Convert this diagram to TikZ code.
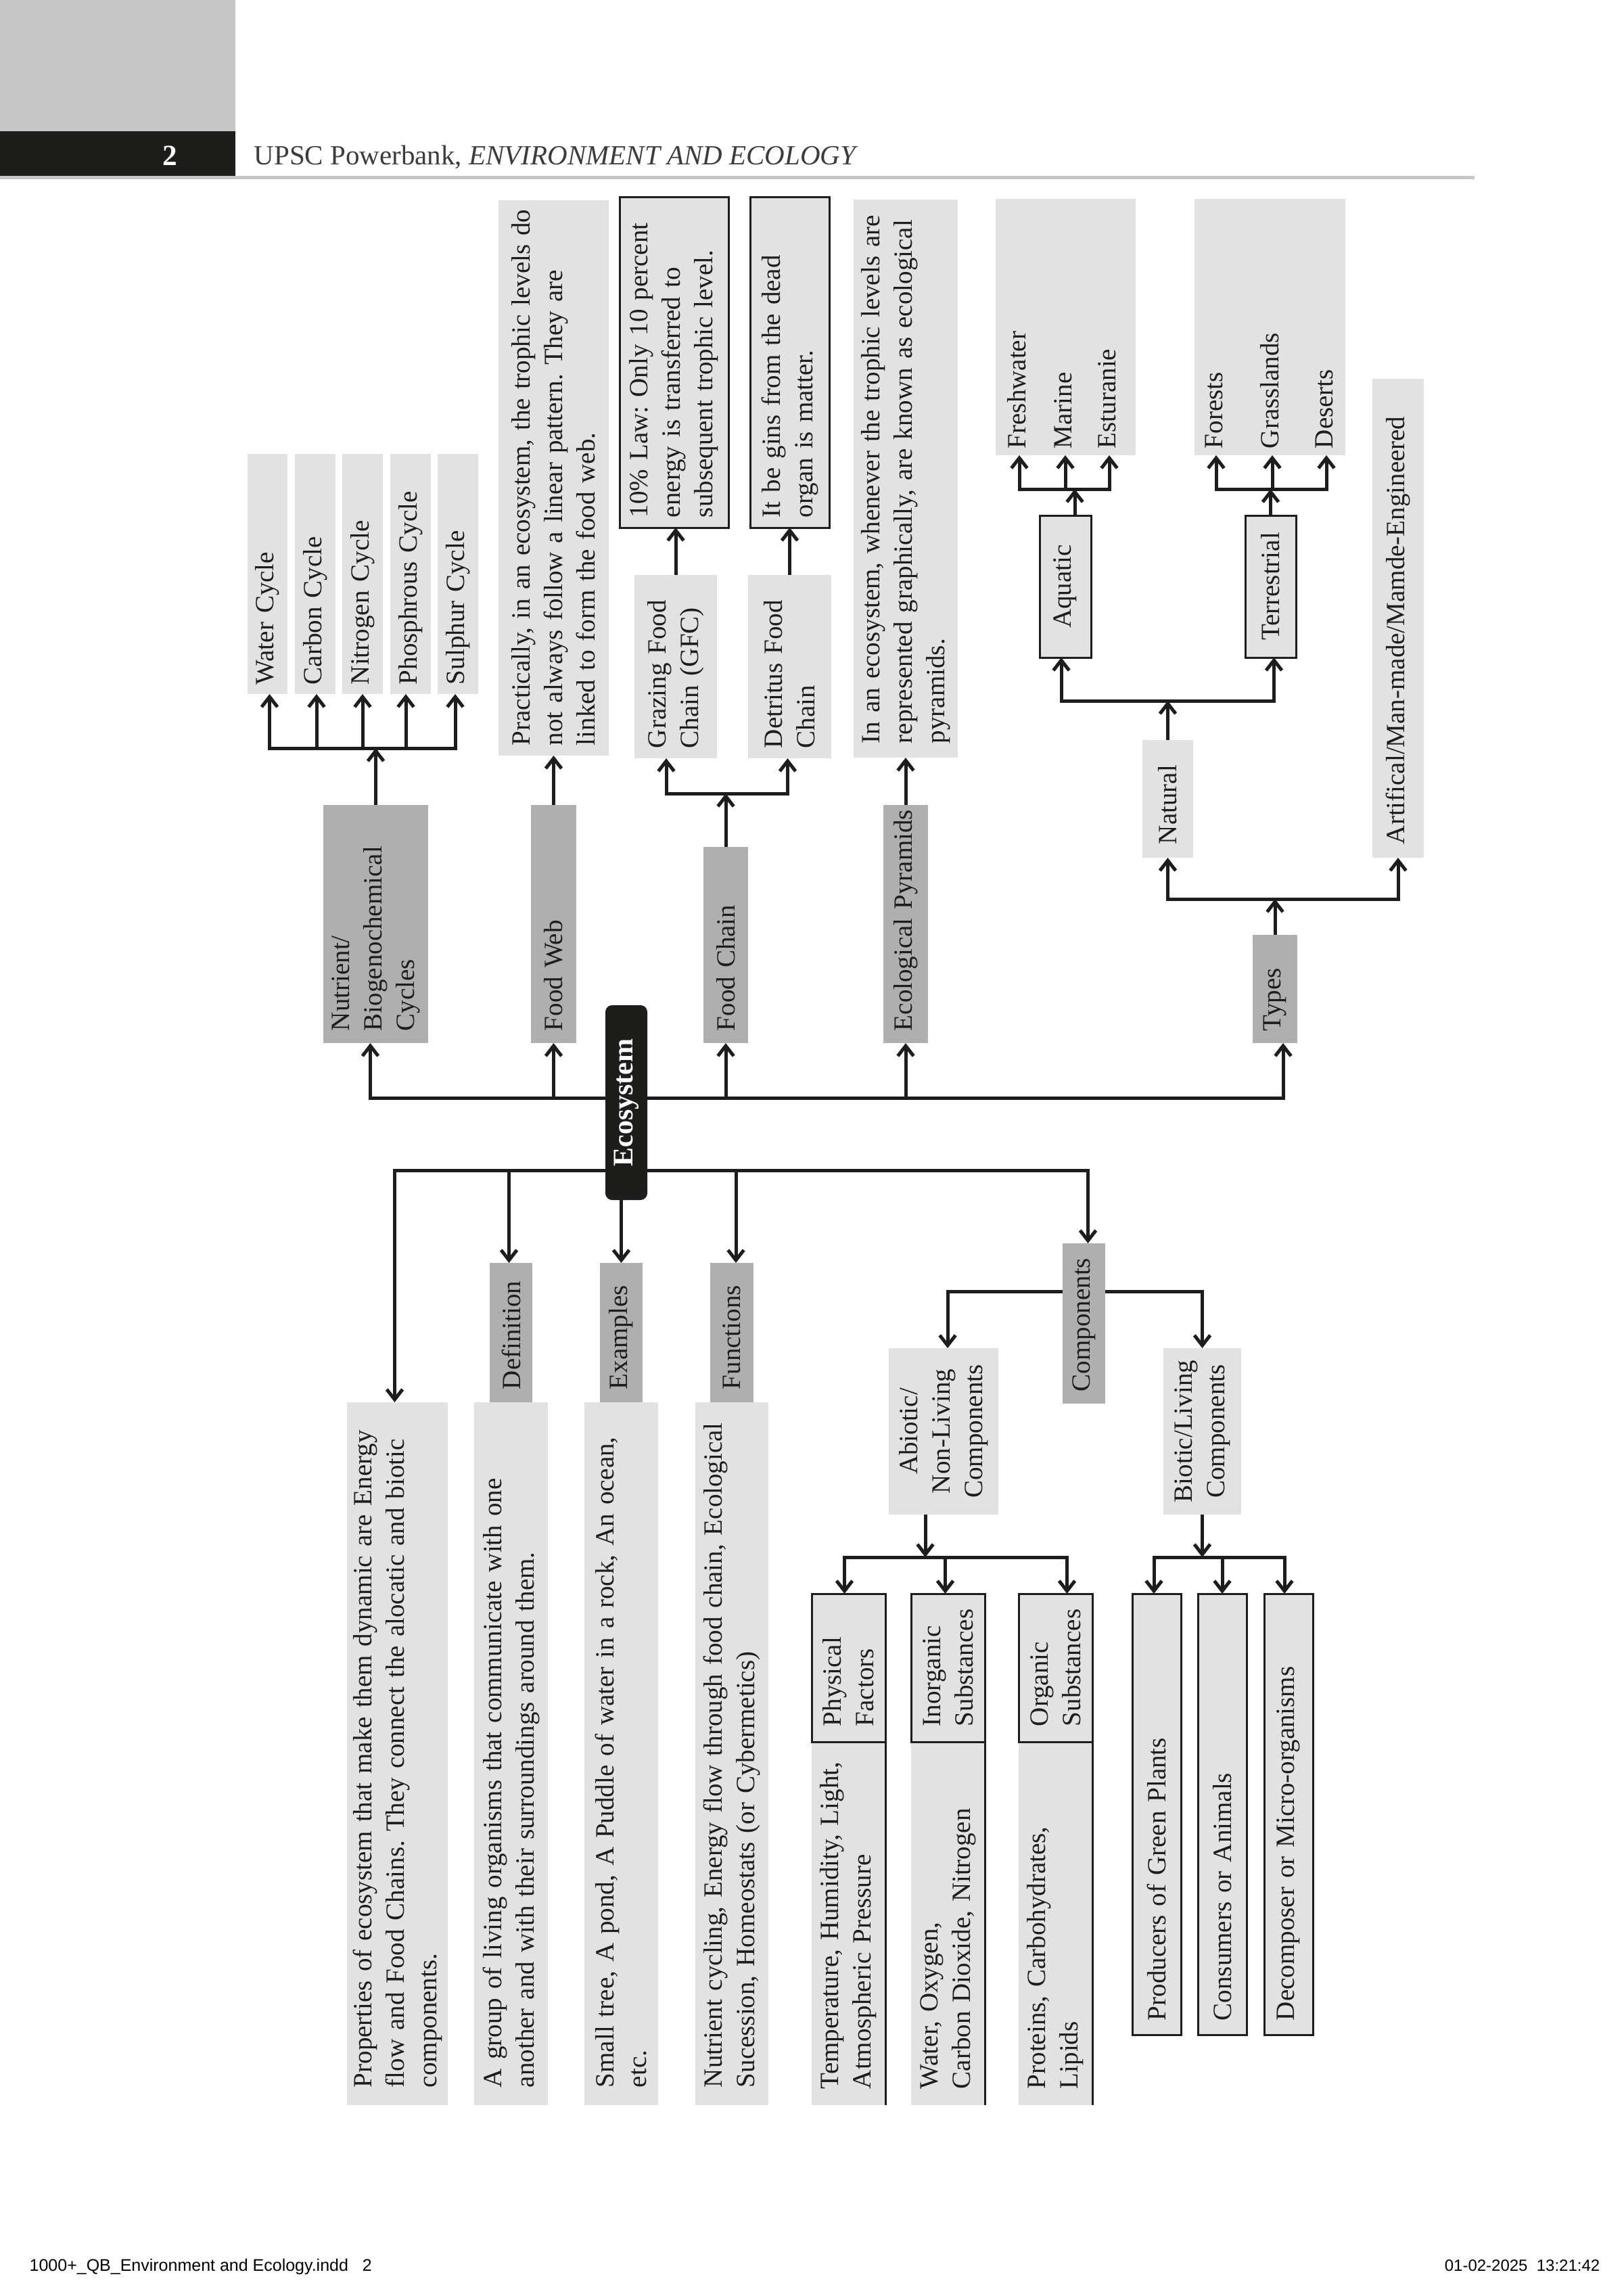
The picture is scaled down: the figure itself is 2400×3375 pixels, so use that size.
\documentclass[tikz,border=0pt]{standalone}
\usepackage{fontspec}
\setmainfont{Liberation Serif}
\newfontfamily\footerfont{Liberation Sans}
\usetikzlibrary{arrows.meta}
\definecolor{inkblack}{HTML}{1D1D1B}
\definecolor{lightgray}{HTML}{E2E2E2}
\definecolor{midgray}{HTML}{AFAFAF}
\definecolor{headgray}{HTML}{C6C6C6}
\definecolor{headtext}{HTML}{3C3C3B}
\tikzset{
    sized/.style n args={3}{minimum width=#1*0.3pt,minimum height=#2*0.3pt,
      text width={(#1-2*#3)*0.3pt},inner xsep=#3*0.3pt,inner ysep=0pt},
    basebox/.style={rotate=90,align=left,text=inkblack,outer sep=0pt,
      font=\fontsize{11.7}{14.4}\selectfont\frenchspacing},
    lightbox/.style={basebox,fill=lightgray},
    midbox/.style={basebox,fill=midgray},
    framebox/.style={basebox,fill=lightgray,draw=inkblack,line width=0.9pt},
    darkbox/.style={basebox,fill=inkblack,text=white,align=center,rounded corners=3pt,
      font=\fontsize{12.6}{14.4}\selectfont\bfseries},
    labeltext/.style={basebox,anchor=west,inner xsep=3pt,inner ysep=0pt,text depth=2.5pt,text height=8pt},
    wire/.style={draw=inkblack,line width=1.5pt},
    arrowline/.style={wire,-{Straight Barb[length=4.5pt,width=7pt,line width=1.5pt]}},
}
\begin{document}
\begin{tikzpicture}[x=0.3pt,y=-0.3pt]
    \useasboundingbox (0,0) rectangle (2400,3375);
    % page header and footer
    \fill[headgray] (0,0) rectangle (348,194);
    \fill[inkblack] (0,194) rectangle (348,260);
    \fill[headgray] (0,260) rectangle (2180,265);
    \node[text=white,font=\fontsize{13}{15}\selectfont\bfseries] (pageno) at (251,230) {2};
    \node[anchor=base west,inner sep=0pt,text=headtext,font=\fontsize{12.3}{15}\selectfont] (running) at (375,243)
      {UPSC Powerbank, \textit{ENVIRONMENT AND ECOLOGY}};
    \node[anchor=base west,inner sep=0pt,font=\fontsize{7.5}{9}\footerfont] (slug) at (43,3357) {1000+\_QB\_Environment and Ecology.indd\ \ \ 2};
    \node[anchor=base east,inner sep=0pt,font=\fontsize{7.2}{9}\footerfont] (stamp) at (2366,3357) {01-02-2025\ \ 13:21:42};
    % centre
    \node[darkbox,sized={288}{62}{10}] (ecosystem) at (926,1630) {Ecosystem};
    \coordinate (upbus) at (926,1623);
    \coordinate (lowbus) at (926,1730);
    % upper half
    \node[midbox,sized={352}{155}{18}] (nutrient) at (555.5,1366) {Nutrient/\\Biogenochemical\\Cycles};
    \node[midbox,sized={352}{67}{18}] (foodweb) at (818.5,1366) {Food Web};
    \node[midbox,sized={290}{66}{18}] (foodchain) at (1073,1397) {Food Chain};
    \node[midbox,sized={352}{66}{18}] (ecopyramids) at (1339,1366) {\mbox{Ecological Pyramids}};
    \node[midbox,sized={160}{66}{18}] (types) at (1885,1462) {Types};
    \node[lightbox,sized={355}{59}{14}] (water) at (395.5,848.5) {Water Cycle};
    \node[lightbox,sized={355}{60}{14}] (carbon) at (466,848.5) {Carbon Cycle};
    \node[lightbox,sized={355}{60}{14}] (nitrogen) at (536,848.5) {Nitrogen Cycle};
    \node[lightbox,sized={355}{60}{14}] (phosphrous) at (607,848.5) {Phosphrous Cycle};
    \node[lightbox,sized={355}{60}{14}] (sulphur) at (677,848.5) {Sulphur Cycle};
    \node[lightbox,sized={821}{163}{15}] (practically) at (818.5,706.5)
      {\mbox{Practically, in an ecosystem, the trophic levels do}\\not always follow a linear pattern. They are\\linked to form the food web.};
    \node[lightbox,sized={271}{122}{15}] (grazing) at (999,985.5) {Grazing Food\\Chain (GFC)};
    \node[lightbox,sized={271}{123}{15}] (detritus) at (1167.5,985.5) {Detritus Food\\Chain};
    \node[framebox,sized={489}{161}{15}] (tenlaw) at (996.5,535.5) {10\% Law: Only 10 percent\\energy is transferred to\\subsequent trophic level.};
    \node[framebox,sized={489}{117}{15}] (deadorgan) at (1167.5,535.5) {It be gins from the dead\\organ is matter.};
    \node[lightbox,sized={825}{154}{21}] (pyramidtext) at (1339,707.5)
      {In an ecosystem, whenever the trophic levels are\\represented graphically, are known as ecological\\pyramids.};
    \node[lightbox,sized={174}{75}{20}] (natural) at (1726.5,1181) {Natural};
    \node[lightbox,sized={708}{76}{20}] (artificial) at (2067,914) {Artifical/Man-made/Mamde-Engineered};
    \node[framebox,sized={210}{76}{10},align=center] (aquatic) at (1575,867) {Aquatic};
    \node[framebox,sized={210}{75}{10},align=center] (terrestrial) at (1878.5,867) {Terrestrial};
    \node[lightbox,sized={379}{207}{0}] (aquaticbox) at (1575.5,483.5) {};
    \node[lightbox,sized={379}{223}{0}] (terrestrialbox) at (1877.5,483.5) {};
    \node[labeltext] (freshwater) at (1507,673) {Freshwater};
    \node[labeltext] (marine) at (1575,673) {Marine};
    \node[labeltext] (esturanie) at (1640,673) {Esturanie};
    \node[labeltext] (forests) at (1798,673) {Forests};
    \node[labeltext] (grasslands) at (1881,673) {Grasslands};
    \node[labeltext] (deserts) at (1961,673) {Deserts};
    % lower half
    \node[midbox,sized={206}{63}{19}] (definition) at (755.5,1970) {Definition};
    \node[midbox,sized={206}{63}{19}] (examples) at (918.5,1970) {Examples};
    \node[midbox,sized={206}{64}{19}] (functions) at (1082,1970) {Functions};
    \node[midbox,sized={237}{63}{18}] (components) at (1602.5,1956.5) {Components};
    \node[lightbox,sized={1039}{149}{26}] (properties) at (587.5,2592.5)
      {Properties of ecosystem that make them dynamic are Energy\\flow and Food Chains. They connect the alocatic and biotic\\components.};
    \node[lightbox,sized={1039}{109}{26}] (grouptext) at (755.5,2592.5)
      {A group of living organisms that communicate with one\\another and with their surroundings around them.};
    \node[lightbox,sized={1039}{109}{26}] (smalltree) at (918.5,2592.5)
      {Small tree, A pond, A Puddle of water in a rock, An ocean,\\etc.};
    \node[lightbox,sized={1039}{108}{26}] (cycling) at (1082,2592.5)
      {Nutrient cycling, Energy flow through food chain, Ecological\\Sucession, Homeostats (or Cybermetics)};
    \node[lightbox,sized={246}{162}{10},align=center] (abiotic) at (1395,2116) {Abiotic/\\Non-Living\\Components};
    \node[lightbox,sized={246}{115}{10},align=center] (biotic) at (1777.5,2116) {Biotic/Living\\Components};
    \node[lightbox,sized={537}{109}{24}] (physicalbody) at (1254.5,2843.5) {Temperature, Humidity, Light,\\Atmospheric Pressure};
    \node[lightbox,sized={537}{109}{24}] (inorganicbody) at (1401.5,2843.5) {Water, Oxygen,\\Carbon Dioxide, Nitrogen};
    \node[lightbox,sized={537}{109}{24}] (organicbody) at (1560.5,2843.5) {Proteins, Carbohydrates,\\Lipids};
    \node[framebox,sized={219}{109}{23}] (physical) at (1254.5,2465.5) {Physical\\Factors};
    \node[framebox,sized={219}{109}{23}] (inorganic) at (1401.5,2465.5) {Inorganic\\Substances};
    \node[framebox,sized={219}{109}{23}] (organic) at (1560.5,2465.5) {Organic\\Substances};
    \node[framebox,sized={652}{72}{21}] (producers) at (1710,2682) {Producers of Green Plants};
    \node[framebox,sized={652}{72}{21}] (consumers) at (1807,2682) {Consumers or Animals};
    \node[framebox,sized={652}{72}{21}] (decomposer) at (1905,2682) {Decomposer or Micro-organisms};
    \draw[framebox,fill=none] (physicalbody.south east) -- (physicalbody.south west);
    \draw[framebox,fill=none] (inorganicbody.south east) -- (inorganicbody.south west);
    \draw[framebox,fill=none] (organicbody.south east) -- (organicbody.south west);
    % connectors above the centre
    \draw[arrowline] (ecosystem.north |- upbus) -| ([shift={(-8,0)}]nutrient.west);
    \draw[arrowline] (ecosystem.north |- upbus) -| (foodweb.west);
    \draw[arrowline] (ecosystem.south |- upbus) -| (foodchain.west);
    \draw[arrowline] (ecosystem.south |- upbus) -| (ecopyramids.west);
    \draw[arrowline] (ecosystem.south |- upbus) -| ([shift={(12,0)}]types.west);
    \coordinate (cyclesbus) at (nutrient.east |- 0,1106);
    \draw[arrowline] (nutrient.east) -- (cyclesbus);
    \draw[arrowline] (cyclesbus) -| ([shift={(3,0)}]water.west);
    \draw[arrowline] (cyclesbus) -| ([shift={(2,0)}]carbon.west);
    \draw[arrowline] (cyclesbus) -| (nitrogen.west);
    \draw[arrowline] (cyclesbus) -| ([shift={(-7,0)}]phosphrous.west);
    \draw[arrowline] (cyclesbus) -| ([shift={(-4,0)}]sulphur.west);
    \draw[arrowline] (foodweb.east) -- (practically.west);
    \coordinate (chainbus) at (foodchain.east |- 0,1173);
    \draw[arrowline] (foodchain.east) -- (chainbus);
    \draw[arrowline] (chainbus) -| ([shift={(-14,0)}]grazing.west);
    \draw[arrowline] (chainbus) -| ([shift={(-3,0)}]detritus.west);
    \draw[arrowline] (grazing.east) -- (grazing.east |- tenlaw.west);
    \draw[arrowline] (detritus.east) -- (deadorgan.west);
    \draw[arrowline] (ecopyramids.east) -- (pyramidtext.west);
    \coordinate (typesbus) at (types.east |- 0,1329);
    \draw[arrowline] (types.east) -- (typesbus);
    \draw[arrowline] (typesbus) -| (natural.west);
    \draw[arrowline] (typesbus) -| (artificial.west);
    \coordinate (naturalbus) at (natural.east |- 0,1036);
    \draw[arrowline] (natural.east) -- (naturalbus);
    \draw[arrowline] (naturalbus) -| ([shift={(-6,0)}]aquatic.west);
    \draw[arrowline] (naturalbus) -| ([shift={(5,0)}]terrestrial.west);
    \coordinate (aquaticbus) at (1589,723);
    \draw[arrowline] (aquaticbus |- aquatic.east) -- (aquaticbus);
    \draw[arrowline] (aquaticbus) -| (freshwater.west);
    \draw[arrowline] (aquaticbus) -| (marine.west);
    \draw[arrowline] (aquaticbus) -| (esturanie.west);
    \coordinate (terrestrialbus) at (terrestrial.east |- 0,723);
    \draw[arrowline] (terrestrial.east) -- (terrestrialbus);
    \draw[arrowline] (terrestrialbus) -| (forests.west);
    \draw[arrowline] (terrestrialbus) -| (grasslands.west);
    \draw[arrowline] (terrestrialbus) -| (deserts.west);
    % connectors below the centre
    \draw[arrowline] (ecosystem.north |- lowbus) -| ([shift={(-4,0)}]properties.east);
    \draw[arrowline] (ecosystem.north |- lowbus) -| ([shift={(-3,0)}]definition.east);
    \draw[arrowline] (ecosystem.west -| examples.east) -- (examples.east);
    \draw[arrowline] (ecosystem.south |- lowbus) -| ([shift={(6,0)}]functions.east);
    \draw[arrowline] (ecosystem.south |- lowbus) -| ([shift={(6,0)}]components.east);
    \coordinate (componentsbus) at (components |- 0,1909);
    \draw[arrowline] (components.north |- componentsbus) -| ([shift={(6,0)}]abiotic.east);
    \draw[arrowline] (components.south |- componentsbus) -| (biotic.east);
    \coordinate (abioticbus) at (1368,2302);
    \draw[arrowline] (abioticbus |- abiotic.west) -- (abioticbus);
    \draw[arrowline] (abioticbus) -| ([shift={(-6,0)}]physical.east);
    \draw[arrowline] (abioticbus) -| ([shift={(-4,0)}]inorganic.east);
    \draw[arrowline] (abioticbus) -| ([shift={(17,0)}]organic.east);
    \coordinate (bioticbus) at (biotic.west |- 0,2302);
    \draw[arrowline] (biotic.west) -- (bioticbus);
    \draw[arrowline] (bioticbus) -| ([shift={(-4,0)}]producers.east);
    \draw[arrowline] (bioticbus) -| (consumers.east);
    \draw[arrowline] (bioticbus) -| ([shift={(-6,0)}]decomposer.east);
\end{tikzpicture}
\end{document}
